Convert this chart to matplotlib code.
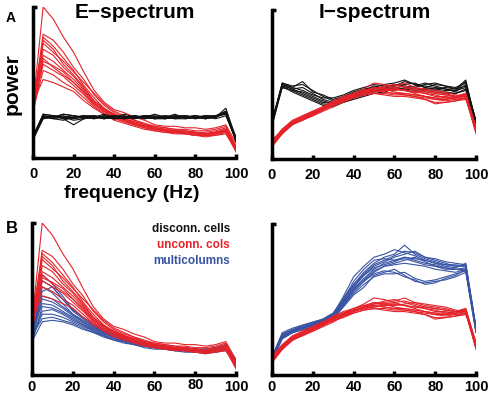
import matplotlib
matplotlib.use("Agg")
import matplotlib.pyplot as plt

plt.rcParams['font.family'] = ['Liberation Sans', 'DejaVu Sans']

freq = [0, 5, 10, 15, 20, 25, 30, 35, 40, 45, 50, 55, 60, 65, 70, 75, 80, 85, 90, 95, 100]
xticks = [0, 20, 40, 60, 80, 100]
xticklabels = ['0', '20', '40', '60', '80', '100']
titles = ['E\u2212spectrum', 'I\u2212spectrum']
legend_labels = ['disconn. cells', 'unconn. cols', 'multicolumns']

# E-spectrum, unconnected columns (red)
red_E = [
    [35, 100, 92, 80, 70, 57, 45, 37, 32, 30, 27, 25, 22, 21, 21, 20, 20, 19, 20, 22, 10],
    [33, 82, 78, 70, 60, 52, 42, 35, 30, 27, 25, 23, 21, 20, 19, 19, 18, 18, 19, 21, 8],
    [30, 80, 74, 66, 58, 48, 40, 33, 28, 26, 24, 22, 20, 19, 18, 17, 17, 17, 18, 20, 7],
    [38, 78, 72, 62, 55, 47, 38, 32, 29, 26, 23, 21, 20, 19, 18, 18, 17, 16, 17, 19, 6],
    [32, 76, 70, 64, 57, 50, 43, 36, 31, 28, 25, 22, 21, 20, 19, 18, 17, 16, 17, 19, 8],
    [36, 68, 64, 58, 52, 45, 37, 31, 28, 25, 23, 21, 19, 18, 17, 17, 16, 16, 16, 18, 5],
    [29, 66, 60, 55, 50, 43, 36, 32, 28, 25, 22, 20, 19, 18, 18, 17, 16, 15, 16, 18, 6],
    [34, 62, 58, 54, 48, 42, 35, 30, 27, 24, 22, 21, 19, 18, 17, 16, 15, 15, 16, 17, 5],
    [31, 58, 55, 50, 46, 40, 34, 29, 26, 24, 22, 20, 18, 17, 17, 16, 15, 15, 15, 17, 4],
    [37, 52, 50, 47, 44, 38, 33, 29, 25, 23, 21, 19, 18, 17, 16, 16, 15, 14, 15, 16, 5],
    [30, 72, 68, 60, 54, 46, 38, 33, 29, 26, 24, 22, 20, 19, 18, 17, 17, 16, 17, 19, 7],
    [33, 64, 61, 57, 50, 44, 36, 31, 27, 25, 23, 21, 20, 18, 17, 17, 16, 16, 17, 18, 6],
]

# E-spectrum, disconnected cells (black)
black_E = [
    [13, 28, 27, 28, 26, 27, 28, 27, 26, 27, 28, 27, 26, 27, 28, 27, 27, 28, 27, 30, 12],
    [15, 27, 28, 26, 27, 28, 26, 27, 28, 26, 27, 28, 27, 26, 27, 28, 26, 27, 28, 29, 13],
    [12, 26, 27, 27, 25, 26, 27, 29, 27, 28, 26, 27, 29, 27, 26, 26, 27, 26, 27, 31, 11],
    [14, 29, 28, 27, 28, 27, 27, 26, 27, 27, 27, 26, 27, 28, 27, 27, 28, 27, 26, 28, 12],
    [13, 27, 26, 25, 27, 28, 27, 28, 26, 27, 27, 27, 26, 26, 27, 28, 27, 28, 27, 30, 14],
    [12, 28, 27, 29, 28, 26, 28, 26, 27, 26, 28, 26, 27, 27, 29, 26, 27, 26, 28, 29, 12],
    [14, 26, 28, 26, 22, 26, 27, 27, 28, 27, 26, 28, 28, 27, 26, 27, 28, 27, 27, 33, 13],
    [15, 28, 26, 27, 27, 27, 26, 28, 27, 29, 27, 27, 27, 28, 27, 27, 26, 28, 28, 29, 11],
    [13, 27, 27, 29, 28, 27, 27, 27, 26, 27, 28, 27, 26, 27, 28, 28, 27, 27, 27, 30, 12],
    [14, 29, 28, 27, 26, 28, 28, 26, 28, 27, 27, 28, 27, 26, 27, 27, 28, 26, 28, 31, 13],
]

# E-spectrum, multicolumns (blue)
blue_E = [
    [25, 66, 60, 52, 43, 38, 33, 29, 27, 25, 23, 21, 20, 19, 18, 18, 17, 17, 18, 20, 10],
    [22, 62, 58, 50, 42, 37, 32, 28, 26, 24, 22, 20, 19, 18, 17, 17, 17, 16, 17, 19, 9],
    [27, 55, 58, 50, 43, 38, 34, 30, 27, 25, 23, 21, 20, 19, 18, 18, 17, 17, 18, 20, 10],
    [24, 58, 54, 47, 40, 35, 31, 28, 26, 24, 22, 20, 19, 18, 18, 17, 16, 16, 17, 19, 9],
    [26, 52, 50, 45, 40, 36, 32, 29, 26, 24, 22, 21, 20, 19, 18, 17, 17, 16, 17, 19, 8],
    [23, 50, 48, 44, 39, 35, 31, 28, 25, 23, 21, 20, 19, 18, 17, 17, 16, 16, 17, 18, 9],
    [28, 47, 46, 42, 38, 34, 30, 27, 25, 23, 21, 20, 19, 18, 17, 17, 16, 15, 16, 18, 10],
    [21, 45, 44, 41, 37, 33, 30, 27, 25, 23, 21, 20, 18, 18, 17, 16, 16, 15, 16, 18, 8],
    [25, 42, 43, 40, 36, 33, 29, 26, 24, 22, 21, 19, 18, 17, 17, 16, 15, 15, 16, 17, 9],
    [24, 40, 40, 38, 35, 32, 29, 26, 24, 22, 20, 19, 18, 17, 16, 16, 15, 15, 16, 17, 8],
    [26, 37, 38, 36, 34, 31, 28, 26, 23, 22, 20, 19, 18, 17, 16, 16, 15, 15, 15, 17, 9],
    [22, 35, 36, 35, 33, 30, 28, 25, 23, 21, 20, 18, 17, 17, 16, 15, 15, 14, 15, 16, 8],
]

# I-spectrum, unconnected columns (red)
red_I = [
    [10, 18, 24, 27, 31, 34, 38, 41, 44, 47, 51, 50, 48, 49, 47, 45, 44, 43, 42, 43, 19],
    [9, 17, 23, 27, 30, 33, 37, 40, 43, 45, 47, 48, 49, 51, 48, 46, 45, 44, 42, 42, 18],
    [12, 19, 25, 28, 32, 35, 39, 42, 44, 46, 46, 45, 44, 43, 42, 41, 40, 40, 41, 42, 20],
    [8, 17, 24, 26, 29, 33, 36, 39, 42, 44, 45, 46, 47, 46, 45, 44, 43, 41, 40, 41, 17],
    [11, 20, 26, 29, 32, 35, 38, 41, 43, 44, 46, 47, 48, 46, 44, 42, 41, 41, 42, 44, 21],
    [10, 18, 23, 26, 30, 34, 37, 40, 42, 45, 48, 47, 45, 44, 43, 42, 40, 39, 40, 41, 19],
    [13, 19, 25, 28, 31, 34, 36, 38, 41, 43, 44, 43, 42, 42, 41, 40, 38, 38, 39, 40, 22],
    [9, 18, 24, 27, 29, 32, 35, 39, 42, 45, 47, 49, 50, 48, 46, 44, 42, 42, 41, 43, 18],
    [11, 19, 25, 28, 31, 33, 37, 40, 43, 44, 45, 46, 46, 47, 48, 47, 46, 45, 43, 42, 20],
    [10, 17, 23, 27, 30, 33, 36, 39, 41, 43, 44, 44, 43, 43, 42, 40, 37, 38, 39, 41, 19],
    [12, 20, 25, 29, 32, 35, 38, 41, 44, 46, 48, 47, 47, 46, 45, 45, 44, 43, 42, 44, 21],
    [9, 18, 24, 27, 30, 34, 37, 40, 43, 45, 46, 45, 44, 44, 43, 42, 41, 40, 41, 42, 18],
]

# I-spectrum, disconnected cells (black)
black_I = [
    [24, 50, 48, 52, 45, 43, 40, 42, 45, 47, 48, 50, 51, 53, 50, 49, 48, 47, 46, 52, 24],
    [23, 49, 47, 44, 41, 38, 37, 40, 44, 45, 47, 48, 49, 50, 51, 48, 47, 48, 47, 49, 23],
    [25, 51, 49, 50, 46, 42, 39, 41, 43, 46, 49, 47, 50, 49, 48, 50, 51, 49, 48, 51, 25],
    [22, 48, 46, 43, 40, 37, 36, 39, 42, 44, 45, 47, 46, 48, 47, 47, 46, 45, 44, 47, 22],
    [26, 50, 47, 48, 44, 40, 38, 38, 41, 43, 46, 46, 48, 47, 49, 51, 49, 47, 45, 50, 26],
    [24, 49, 45, 42, 39, 36, 35, 38, 40, 42, 44, 45, 47, 46, 45, 46, 45, 44, 44, 46, 24],
    [23, 51, 48, 46, 43, 41, 41, 43, 46, 48, 50, 49, 49, 52, 50, 48, 50, 49, 47, 53, 23],
    [25, 48, 46, 45, 42, 39, 37, 40, 42, 44, 46, 47, 48, 47, 46, 47, 47, 46, 46, 48, 25],
]

# I-spectrum, multicolumns (blue)
blue_I = [
    [10, 26, 29, 31, 33, 36, 40, 49, 60, 68, 74, 78, 80, 86, 80, 77, 75, 73, 72, 73, 30],
    [11, 25, 28, 31, 33, 35, 39, 47, 58, 66, 72, 75, 78, 80, 82, 78, 76, 74, 72, 72, 29],
    [9, 27, 30, 32, 34, 37, 41, 50, 62, 70, 76, 77, 76, 78, 76, 74, 73, 71, 70, 71, 31],
    [10, 24, 28, 30, 32, 35, 38, 46, 55, 62, 68, 72, 74, 76, 78, 75, 72, 70, 70, 69, 28],
    [12, 26, 30, 32, 34, 36, 40, 52, 65, 72, 78, 80, 83, 81, 79, 76, 74, 72, 71, 74, 32],
    [10, 25, 29, 31, 33, 35, 39, 48, 57, 64, 70, 74, 76, 77, 75, 73, 72, 71, 70, 70, 30],
    [11, 27, 30, 33, 35, 37, 41, 51, 60, 66, 71, 73, 75, 78, 77, 76, 74, 73, 73, 72, 31],
    [9, 24, 28, 30, 32, 34, 37, 45, 53, 58, 66, 68, 70, 66, 62, 61, 62, 63, 65, 68, 28],
    [10, 26, 29, 31, 34, 36, 39, 47, 56, 62, 67, 69, 68, 65, 63, 60, 61, 64, 66, 70, 29],
    [11, 25, 28, 31, 33, 35, 38, 46, 54, 60, 65, 67, 67, 68, 64, 62, 63, 65, 67, 69, 30],
    [10, 26, 29, 32, 34, 36, 40, 49, 59, 67, 73, 76, 79, 82, 81, 78, 77, 75, 74, 73, 31],
    [12, 28, 31, 33, 35, 37, 40, 48, 57, 63, 69, 72, 73, 74, 73, 72, 70, 69, 68, 70, 30],
]

RED = '#e52229'
BLUE = '#3853a4'
BLACK = '#111111'

W, H = 488, 398
fig = plt.figure(figsize=(W / 100, H / 100), dpi=100)


def make_ax(x0, x1, ytop, ybot):
    return fig.add_axes([x0 / W, 1 - ybot / H, (x1 - x0) / W, (ybot - ytop) / H])


axA1 = make_ax(33, 236, 7, 158)
axA2 = make_ax(272, 476, 10, 159)
axB1 = make_ax(32, 236, 223, 375)
axB2 = make_ax(272, 476, 224, 375)


def draw(ax, groups, pad):
    for curves, color in groups:
        for c in curves:
            ax.plot(freq, c, color=color, lw=0.8)
    ax.set_xlim(0, 100)
    ax.set_ylim(0, 100)
    for s in ['top', 'right']:
        ax.spines[s].set_visible(False)
    for s in ['left', 'bottom']:
        ax.spines[s].set_linewidth(2.5)
        ax.spines[s].set_color('black')
        ax.spines[s].set_capstyle('projecting')
    ax.set_xticks(xticks)
    ax.set_xticklabels(xticklabels, fontsize=10.5, fontweight='bold')
    ax.tick_params(axis='x', direction='in', length=3, width=2.5, pad=pad)
    ax.set_yticks([100])
    ax.set_yticklabels([])
    ax.tick_params(axis='y', direction='in', length=3, width=2.5)
    ax.patch.set_visible(False)


draw(axA1, [(red_E, RED), (black_E, BLACK)], 6.5)
draw(axA2, [(black_I, BLACK), (red_I, RED)], 6.5)
draw(axB1, [(blue_E, BLUE), (red_E, RED)], 3.5)
draw(axB2, [(blue_I, BLUE), (red_I, RED)], 3.5)

# the "80" label of the lower-left panel sits slightly higher in the reference
for lab in axB1.get_xticklabels():
    if lab.get_text() == '80':
        lab.set_y(0.015)

fig.text(135 / W, 1 - 12 / H, titles[0], ha='center', va='center', fontsize=15, fontweight='bold')
fig.text(375 / W, 1 - 12 / H, titles[1], ha='center', va='center', fontsize=15, fontweight='bold')
fig.text(12 / W, 1 - 84 / H, 'power', ha='center', va='center', rotation=90, fontsize=15, fontweight='bold')
fig.text(132 / W, 1 - 198 / H, 'frequency (Hz)', ha='center', va='baseline', fontsize=14, fontweight='bold')
fig.text(11 / W, 1 - 18 / H, 'A', ha='center', va='center', fontsize=10, fontweight='bold')
fig.text(12 / W, 1 - 228 / H, 'B', ha='center', va='center', fontsize=12, fontweight='bold')

for lab, col, yy in zip(legend_labels, [BLACK, RED, BLUE], [229, 245, 261]):
    fig.text(230 / W, 1 - yy / H, lab, ha='right', va='center', fontsize=8.5, fontweight='bold', color=col)

fig.savefig('out.png', dpi=100)
